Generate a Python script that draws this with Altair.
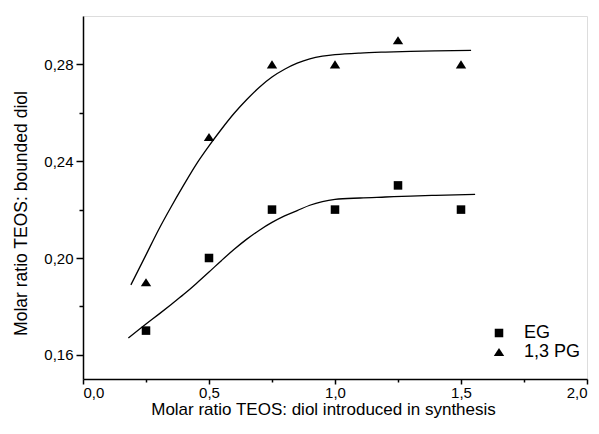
import altair as alt
import pandas as pd

# measured data points
x_pts = [0.25, 0.5, 0.75, 1.0, 1.25, 1.5]
eg_y = [0.17, 0.20, 0.22, 0.22, 0.23, 0.22]
pg_y = [0.19, 0.25, 0.28, 0.28, 0.29, 0.28]

# fitted curves
pg_fit_x = [0.19, 0.25, 0.30, 0.35, 0.40, 0.45, 0.50, 0.55, 0.60, 0.65, 0.70, 0.75, 0.80, 0.85, 0.90, 0.95, 1.0, 1.1, 1.2, 1.3, 1.4, 1.54]
pg_fit_y = [0.1889, 0.2013, 0.2117, 0.2212, 0.2302, 0.2388, 0.2463, 0.2533, 0.2598, 0.2655, 0.2706, 0.2748, 0.2780, 0.2805, 0.2823, 0.2834, 0.2840, 0.2847, 0.2851, 0.2854, 0.2856, 0.2858]
eg_fit_x = [0.18, 0.25, 0.30, 0.35, 0.40, 0.45, 0.50, 0.55, 0.60, 0.65, 0.70, 0.75, 0.80, 0.85, 0.90, 0.95, 1.0, 1.1, 1.2, 1.3, 1.4, 1.556]
eg_fit_y = [0.1669, 0.1727, 0.1767, 0.1808, 0.1850, 0.1895, 0.1942, 0.1990, 0.2036, 0.2078, 0.2115, 0.2147, 0.2174, 0.2196, 0.2218, 0.2233, 0.2242, 0.2248, 0.2252, 0.2256, 0.2259, 0.2263]

series = ["EG", "1,3 PG"]
x_major = [0.0, 0.5, 1.0, 1.5, 2.0]
x_minor = [0.25, 0.75, 1.25, 1.75]
y_major = [0.16, 0.20, 0.24, 0.28]
y_minor = [0.18, 0.22, 0.26]

pts = pd.DataFrame(
    [{"x": x, "y": y, "series": "EG"} for x, y in zip(x_pts, eg_y)]
    + [{"x": x, "y": y, "series": "1,3 PG"} for x, y in zip(x_pts, pg_y)]
)
fits = pd.DataFrame(
    [{"x": x, "y": y, "series": "EG"} for x, y in zip(eg_fit_x, eg_fit_y)]
    + [{"x": x, "y": y, "series": "1,3 PG"} for x, y in zip(pg_fit_x, pg_fit_y)]
)

FONT = "Liberation Sans"
xscale = alt.Scale(domain=[0, 2.0], nice=False, zero=False)
yscale = alt.Scale(domain=[0.15, 0.30], nice=False, zero=False)

SQUARE = "M-0.9,-0.9H0.9V0.9H-0.9Z"
TRIANGLE = "M0,-0.85L1.1,0.85L-1.1,0.85Z"

x_axis_major = alt.Axis(
    orient="bottom", values=x_major, tickSize=5, tickWidth=1.5, tickColor="black",
    domainColor="black", domainWidth=1.5, grid=False,
    labelExpr="replace(format(datum.value, '.1f'), '.', ',')",
    labelFont=FONT, labelFontSize=15, labelColor="black", labelPadding=1,
    title="Molar ratio TEOS: diol introduced in synthesis",
    titleFont=FONT, titleFontSize=17, titleFontWeight="normal", titleColor="black",
    titleX=240, titleY=22,
)
y_axis_major = alt.Axis(
    orient="left", values=y_major, tickSize=7, tickWidth=1.5, tickColor="black",
    domainColor="black", domainWidth=1.5, grid=False,
    labelExpr="replace(format(datum.value, '.2f'), '.', ',')",
    labelFont=FONT, labelFontSize=15, labelColor="black", labelPadding=3,
    title="Molar ratio TEOS: bounded diol",
    titleFont=FONT, titleFontSize=17.5, titleFontWeight="normal", titleColor="black",
    titleX=-53, titleY=197,
)
x_axis_minor = alt.Axis(
    orient="bottom", values=x_minor, tickSize=3, tickWidth=1.5, tickColor="black",
    domain=False, labels=False, grid=False, title=None,
)
y_axis_minor = alt.Axis(
    orient="left", values=y_minor, tickSize=4, tickWidth=1.5, tickColor="black",
    domain=False, labels=False, grid=False, title=None,
)

minor = alt.Chart(pts).mark_point(opacity=0).encode(
    x=alt.X("x:Q", scale=xscale, axis=x_axis_minor),
    y=alt.Y("y:Q", scale=yscale, axis=y_axis_minor),
)

lines = alt.Chart(fits).mark_line(color="black", strokeWidth=1.3, interpolate="monotone").encode(
    x=alt.X("x:Q", scale=xscale, axis=None),
    y=alt.Y("y:Q", scale=yscale, axis=None),
    detail="series:N",
)

legend = alt.Legend(
    title=None, orient="none", legendX=407, legendY=308,
    labelFont=FONT, labelFontSize=18, labelColor="black",
    symbolFillColor="black", symbolStrokeWidth=0, symbolSize=90,
    labelOffset=16, padding=0, rowPadding=1,
)

points = alt.Chart(pts).mark_point(filled=True, color="black", opacity=1, strokeWidth=0, size=90).encode(
    x=alt.X("x:Q", scale=xscale, axis=x_axis_major),
    y=alt.Y("y:Q", scale=yscale, axis=y_axis_major),
    shape=alt.Shape(
        "series:N",
        scale=alt.Scale(domain=series, range=[SQUARE, TRIANGLE]),
        legend=legend,
    ),
)

chart = (
    alt.layer(minor, lines, points)
    .resolve_axis(x="independent", y="independent")
    .properties(
        width=504, height=363,
        autosize=alt.AutoSizeParams(type="none"),
        padding={"left": 75, "top": 8, "right": 4, "bottom": 47},
    )
    .configure_view(stroke="black", strokeWidth=1.5)
    .configure(background="white")
)

chart.save("out.html", embed_options={"renderer": "svg", "actions": False})
